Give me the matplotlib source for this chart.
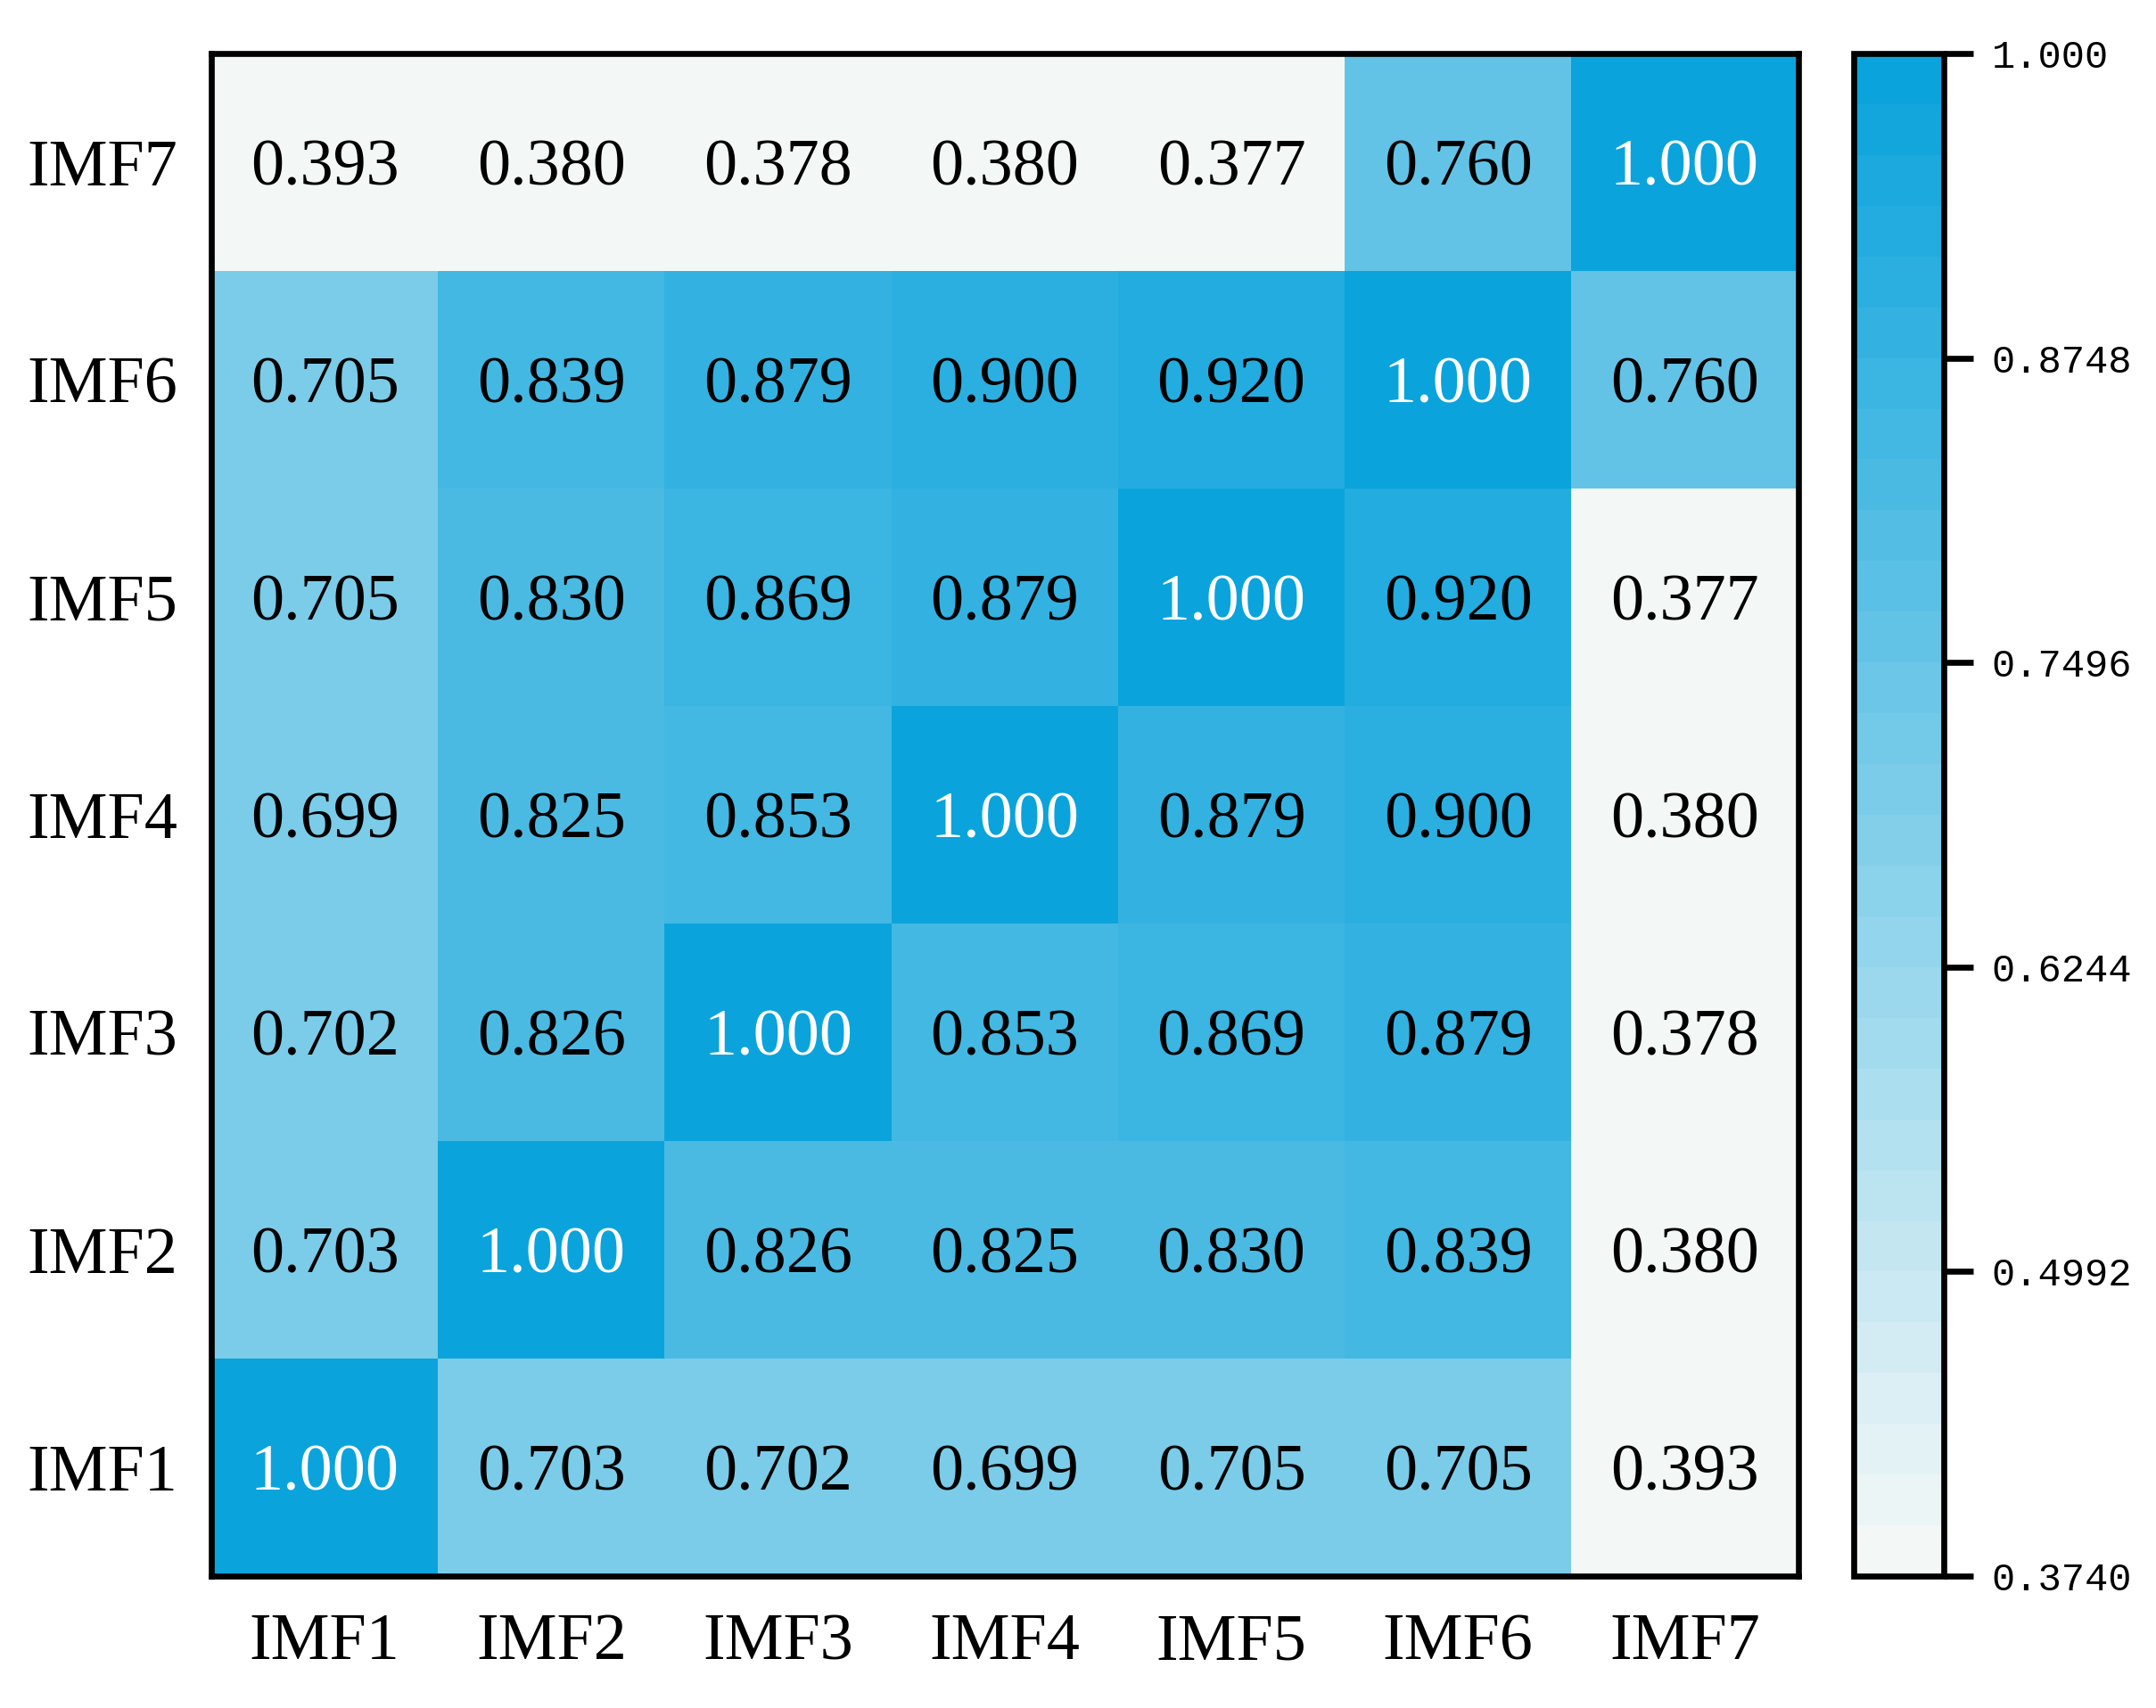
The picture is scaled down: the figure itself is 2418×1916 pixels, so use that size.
import matplotlib

matplotlib.use("Agg")
import matplotlib.pyplot as plt  # noqa: E402
import numpy as np  # noqa: E402
from matplotlib.colors import LinearSegmentedColormap  # noqa: E402

plt.rcParams["font.family"] = ["Liberation Serif", "DejaVu Serif"]

labels = ["IMF1", "IMF2", "IMF3", "IMF4", "IMF5", "IMF6", "IMF7"]
# 行：IMF1..IMF7（自下而上），列：IMF1..IMF7
corr = [
    [1.000, 0.703, 0.702, 0.699, 0.705, 0.705, 0.393],
    [0.703, 1.000, 0.826, 0.825, 0.830, 0.839, 0.380],
    [0.702, 0.826, 1.000, 0.853, 0.869, 0.879, 0.378],
    [0.699, 0.825, 0.853, 1.000, 0.879, 0.900, 0.380],
    [0.705, 0.830, 0.869, 0.879, 1.000, 0.920, 0.377],
    [0.705, 0.839, 0.879, 0.900, 0.920, 1.000, 0.760],
    [0.393, 0.380, 0.378, 0.380, 0.377, 0.760, 1.000],
]
vmin, vmax = 0.374, 1.0
cbar_ticks = [0.3740, 0.4992, 0.6244, 0.7496, 0.8748, 1.000]
cbar_ticklabels = ["0.3740", "0.4992", "0.6244", "0.7496", "0.8748", "1.000"]

data = np.array(corr)
cmap = LinearSegmentedColormap.from_list("blues", ["#F3F8F7", "#0BA3DC"], N=30)

fig = plt.figure(figsize=(2418 / 300, 1916 / 300), dpi=300)
ax = fig.add_axes([0.098, 0.0772, 0.736, 0.8915])
cax = fig.add_axes([0.860, 0.0772, 0.0414, 0.8915])

mesh = ax.pcolormesh(np.arange(8), np.arange(8), data, cmap=cmap, vmin=vmin, vmax=vmax)
for i in range(data.shape[0]):
    for j in range(data.shape[1]):
        v = data[i, j]
        ax.text(j + 0.5, i + 0.5, f"{v:.3f}", ha="center", va="center_baseline", fontsize=17.8,
                color="white" if v >= 0.999 else "black")

ax.set_xticks(np.arange(7) + 0.5)
ax.set_xticklabels(labels, fontsize=17.8)
ax.set_yticks(np.arange(7) + 0.5)
ax.set_yticklabels(labels, fontsize=17.8)
ax.tick_params(axis="y", length=0, pad=9)
ax.tick_params(axis="x", length=0, pad=10)
for s in ax.spines.values():
    s.set_linewidth(1.6)

cb = fig.colorbar(mesh, cax=cax)
cb.set_ticks(cbar_ticks)
cb.set_ticklabels(cbar_ticklabels)
cb.outline.set_linewidth(1.6)
cax.tick_params(length=8, width=1.6, pad=5, labelsize=10.5)
for t in cax.get_yticklabels():
    t.set_family(["Liberation Mono", "DejaVu Sans Mono"])

fig.savefig("out.png", dpi=300)
